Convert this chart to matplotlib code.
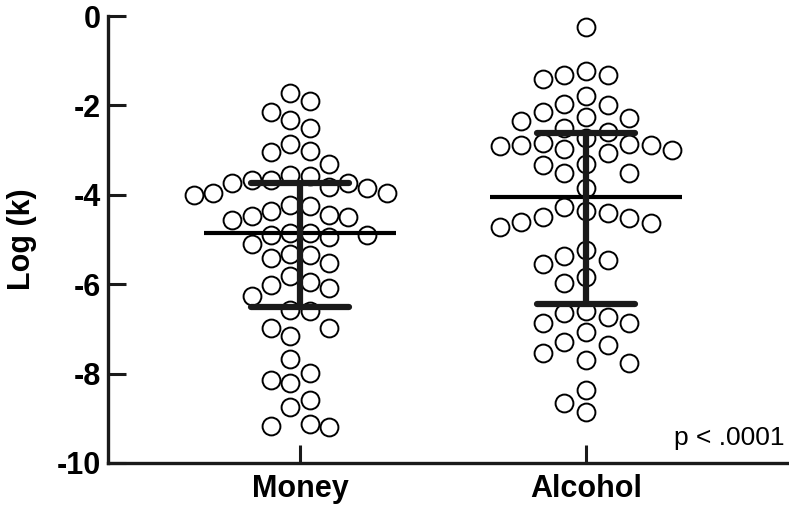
import numpy as np
import matplotlib
matplotlib.use('Agg')
import matplotlib.pyplot as plt

# valores (Log k)
grupos = ['Money', 'Alcohol']
money = [-1.73, -1.90, -2.14, -2.33, -2.50, -2.87, -3.02, -3.04, -3.32, -3.56,
         -3.59, -3.67, -3.67, -3.74, -3.74, -3.82, -3.85, -3.97, -3.97, -4.00,
         -4.23, -4.24, -4.36, -4.45, -4.47, -4.49, -4.56, -4.85, -4.86, -4.90,
         -4.90, -4.94, -5.09, -5.32, -5.35, -5.41, -5.53, -5.82, -5.94, -6.02,
         -6.08, -6.26, -6.58, -6.59, -6.97, -6.99, -7.15, -7.68, -7.99, -8.14,
         -8.22, -8.59, -8.74, -9.13, -9.17, -9.19]
alcohol = [-0.24, -1.23, -1.32, -1.32, -1.42, -1.78, -1.97, -1.99, -2.14, -2.25,
           -2.29, -2.34, -2.51, -2.59, -2.72, -2.83, -2.86, -2.89, -2.89, -2.90,
           -2.98, -3.00, -3.07, -3.30, -3.33, -3.51, -3.51, -3.84, -4.27, -4.36,
           -4.41, -4.49, -4.53, -4.60, -4.64, -4.71, -5.23, -5.38, -5.46, -5.55,
           -5.85, -5.97, -6.59, -6.64, -6.74, -6.86, -6.87, -7.08, -7.30, -7.35,
           -7.55, -7.70, -7.76, -8.37, -8.66, -8.87]
yticks = [0, -2, -4, -6, -8, -10]
texto_p = 'p < .0001'


def swarm(vals, passo, sep, meio):
    # espalha os pontos em colunas, do centro para fora
    vals = np.asarray(vals)
    n = 12
    if meio:
        cand = [s * (k + 0.5) for k in range(n) for s in (-1, 1)]
    else:
        cand = [0] + [s * k for k in range(1, n) for s in (-1, 1)]
    colunas = {}
    offs = np.zeros(len(vals))
    for i in np.argsort(-vals):
        v = vals[i]
        for c in cand:
            if all(abs(v - u) >= sep for u in colunas.get(c, [])):
                colunas.setdefault(c, []).append(v)
                offs[i] = c * passo
                break
    return offs


plt.rcParams['font.family'] = ['Liberation Sans', 'DejaVu Sans']
fig = plt.figure(figsize=(7.89, 5.14), dpi=100)
ax = fig.add_axes([108 / 789, 51 / 514, 681 / 789, 447 / 514])

dados = [money, alcohol]
passos = [0.0675, 0.0755]
meios = [True, False]
for i, d in enumerate(dados):
    x0 = i + 1
    offs = swarm(d, passos[i], 0.47, meios[i])
    ax.scatter(x0 + offs, d, s=165, facecolors='white', edgecolors='black',
               linewidths=1.4, zorder=2, clip_on=False)
    q1, med, q3 = np.percentile(d, [25, 50, 75], method='weibull')
    ax.plot([x0 - 0.335, x0 + 0.335], [med, med], color='black', lw=3, zorder=3,
            solid_capstyle='butt')
    ax.plot([x0, x0], [q1, q3], color='#1a1a1a', lw=4.5, zorder=3, solid_capstyle='butt')
    for q in (q1, q3):
        ax.plot([x0 - 0.17, x0 + 0.17], [q, q], color='#1a1a1a', lw=4.5, zorder=3,
                solid_capstyle='round')

ax.set_xlim(0.329, 2.71)
ax.set_ylim(-10, 0)
ax.set_yticks(yticks)
ax.set_xticks([1, 2])
ax.set_xticklabels(grupos, fontsize=22, fontweight='bold')
ax.set_yticklabels([str(t) for t in yticks], fontsize=22, fontweight='bold')
ax.tick_params(axis='both', direction='in', length=13, width=2.2, color='#1a1a1a')
ax.tick_params(axis='y', pad=5)
ax.tick_params(axis='x', pad=8)
for s in ['top', 'right']:
    ax.spines[s].set_visible(False)
for s in ['left', 'bottom']:
    ax.spines[s].set_linewidth(2.4)
    ax.spines[s].set_color('#1a1a1a')

ax.set_ylabel('Log (k)', fontsize=22, fontweight='bold', labelpad=14)
ax.text(0.994, 0.056, texto_p, transform=ax.transAxes, ha='right', va='center',
        fontsize=19)

fig.savefig('out.png', dpi=100)
